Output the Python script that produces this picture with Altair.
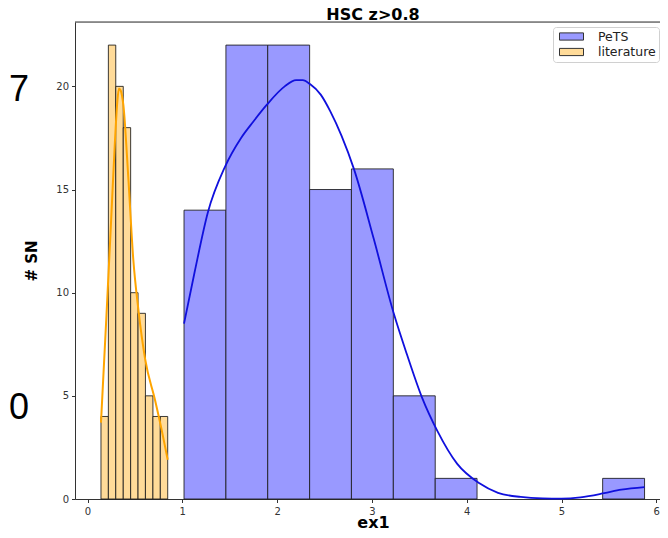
import altair as alt
import pandas as pd

# ---- data ----
series_names = ["PeTS", "literature"]

pets_edges = [1.018, 1.460, 1.901, 2.343, 2.784, 3.226, 3.668, 4.109, 4.551, 4.993, 5.434, 5.876]
pets_counts = [14, 22, 22, 15, 16, 5, 1, 0, 0, 0, 1]

lit_edges = [0.142, 0.220, 0.298, 0.377, 0.455, 0.533, 0.611, 0.690, 0.768, 0.846]
lit_counts = [4, 22, 20, 18, 10, 9, 5, 4, 4]

pets_kde_x = [1.018, 1.13, 1.27, 1.45, 1.62, 1.75, 1.89, 2.08, 2.20, 2.27, 2.35, 2.46, 2.56, 2.68,
              2.81, 3.02, 3.23, 3.37, 3.53, 3.69, 3.90, 4.13, 4.33, 4.57, 4.80, 5.00, 5.20, 5.45,
              5.63, 5.876]
pets_kde_y = [8.5, 11.0, 13.9, 16.1, 17.5, 18.3, 19.1, 20.0, 20.3, 20.3, 20.1, 19.6, 18.8, 17.6,
              16.0, 12.6, 9.0, 7.0, 4.9, 3.3, 1.7, 0.77, 0.3, 0.1, 0.03, 0.02, 0.08, 0.28,
              0.45, 0.58]

lit_kde_x = [0.142, 0.20, 0.25, 0.29, 0.315, 0.332, 0.35, 0.378, 0.43, 0.483, 0.536, 0.607, 0.712, 0.78, 0.846]
lit_kde_y = [3.7, 8.9, 13.6, 17.4, 19.3, 19.9, 19.8, 19.1, 15.6, 11.6, 9.2, 6.8, 4.8, 3.4, 1.9]

x_ticks = [0, 1, 2, 3, 4, 5, 6]
y_ticks = [0, 5, 10, 15, 20]

title_text = ["HSC z>0.8"]
side_labels = ["7", "0"]

# ---- tables ----
rows = []
for i, c in enumerate(pets_counts):
    if c > 0:
        rows.append({"x0": pets_edges[i], "x1": pets_edges[i + 1], "count": c, "series": "PeTS"})
for i, c in enumerate(lit_counts):
    if c > 0:
        rows.append({"x0": lit_edges[i], "x1": lit_edges[i + 1], "count": c, "series": "literature"})
bars_df = pd.DataFrame(rows)

pets_kde = pd.DataFrame({"x": pets_kde_x, "y": pets_kde_y})
lit_kde = pd.DataFrame({"x": lit_kde_x, "y": lit_kde_y})

W, H = 585, 477
xscale = alt.Scale(domain=[-0.132, 6.039], nice=False, zero=False)
yscale = alt.Scale(domain=[0, 23.12], nice=False)

font = "DejaVu Sans"
spine = "#333333"

xaxis = alt.Axis(title="ex1", values=x_ticks, format="d", grid=False, domain=True,
                 domainColor=spine, domainWidth=1,
                 tickSize=3.5, tickColor=spine, labelFont=font, labelFontSize=10,
                 labelColor="#333", titleFont=font, titleFontSize=16, titleFontWeight="bold",
                 titleColor="black", titleBaseline="alphabetic", titleAlign="center",
                 titleX=298, titleY=28, labelPadding=3.5)
yaxis = alt.Axis(title="# SN", values=y_ticks, format="d", grid=False, domain=True,
                 domainColor=spine, domainWidth=1,
                 tickSize=3.5, tickColor=spine, labelFont=font, labelFontSize=10,
                 labelColor="#333", titleFont=font, titleFontSize=15, titleFontWeight="bold",
                 titleColor="black", titlePadding=16, labelPadding=3)

bars = alt.Chart(bars_df).mark_rect(stroke="#1a1a1a", strokeWidth=1, strokeOpacity=0.85).encode(
    x=alt.X("x0:Q", scale=xscale, axis=xaxis),
    x2="x1:Q",
    y=alt.Y("count:Q", scale=yscale, axis=yaxis),
    y2=alt.datum(0),
    fill=alt.Fill("series:N",
                  scale=alt.Scale(domain=series_names, range=["#9999ff", "#ffdb99"]),
                  legend=alt.Legend(title=None, orient="none", legendX=478, legendY=5,
                                    labelFont=font, labelFontSize=12.5, labelColor="#222",
                                    symbolType="M-2,-0.6H2V0.6H-2Z", symbolSize=144,
                                    symbolStrokeColor="#333", symbolStrokeWidth=1,
                                    symbolOpacity=1, symbolOffset=9, labelOffset=20,
                                    rowPadding=2.5, padding=3, strokeColor="#d0d0d0",
                                    fillColor="white", cornerRadius=3)),
)

line_pets = alt.Chart(pets_kde).mark_line(color="#1010dd", strokeWidth=1.8, interpolate="monotone").encode(
    x=alt.X("x:Q", scale=xscale), y=alt.Y("y:Q", scale=yscale))
line_lit = alt.Chart(lit_kde).mark_line(color="#ffa500", strokeWidth=2, interpolate="monotone").encode(
    x=alt.X("x:Q", scale=xscale), y=alt.Y("y:Q", scale=yscale))

top_spine = alt.Chart(pd.DataFrame({"a": [0]})).mark_rule(color=spine, strokeWidth=1).encode(
    x=alt.value(0), x2=alt.value(W), y=alt.value(0))

title = alt.Chart(pd.DataFrame({"t": title_text})).mark_text(
    font=font, fontSize=16, fontWeight="bold", color="black", align="center", baseline="alphabetic"
).encode(text="t:N", x=alt.value(298), y=alt.value(-2))

side = alt.Chart(pd.DataFrame({"t": side_labels, "py": [68, 386]})).mark_text(
    font="Liberation Sans", fontSize=36, color="black", align="center", baseline="middle"
).encode(text="t:N", x=alt.value(-56), y=alt.Y("py:Q", scale=None))

chart = alt.layer(bars, line_pets, line_lit, top_spine, title, side).properties(
    width=W, height=H,
    autosize=alt.AutoSizeParams(type="none"),
    padding={"left": 67, "top": 14, "right": 0, "bottom": 29},
).configure_view(strokeWidth=0).configure(background="white")

chart.save("out.html", embed_options={"renderer": "svg", "actions": False})
